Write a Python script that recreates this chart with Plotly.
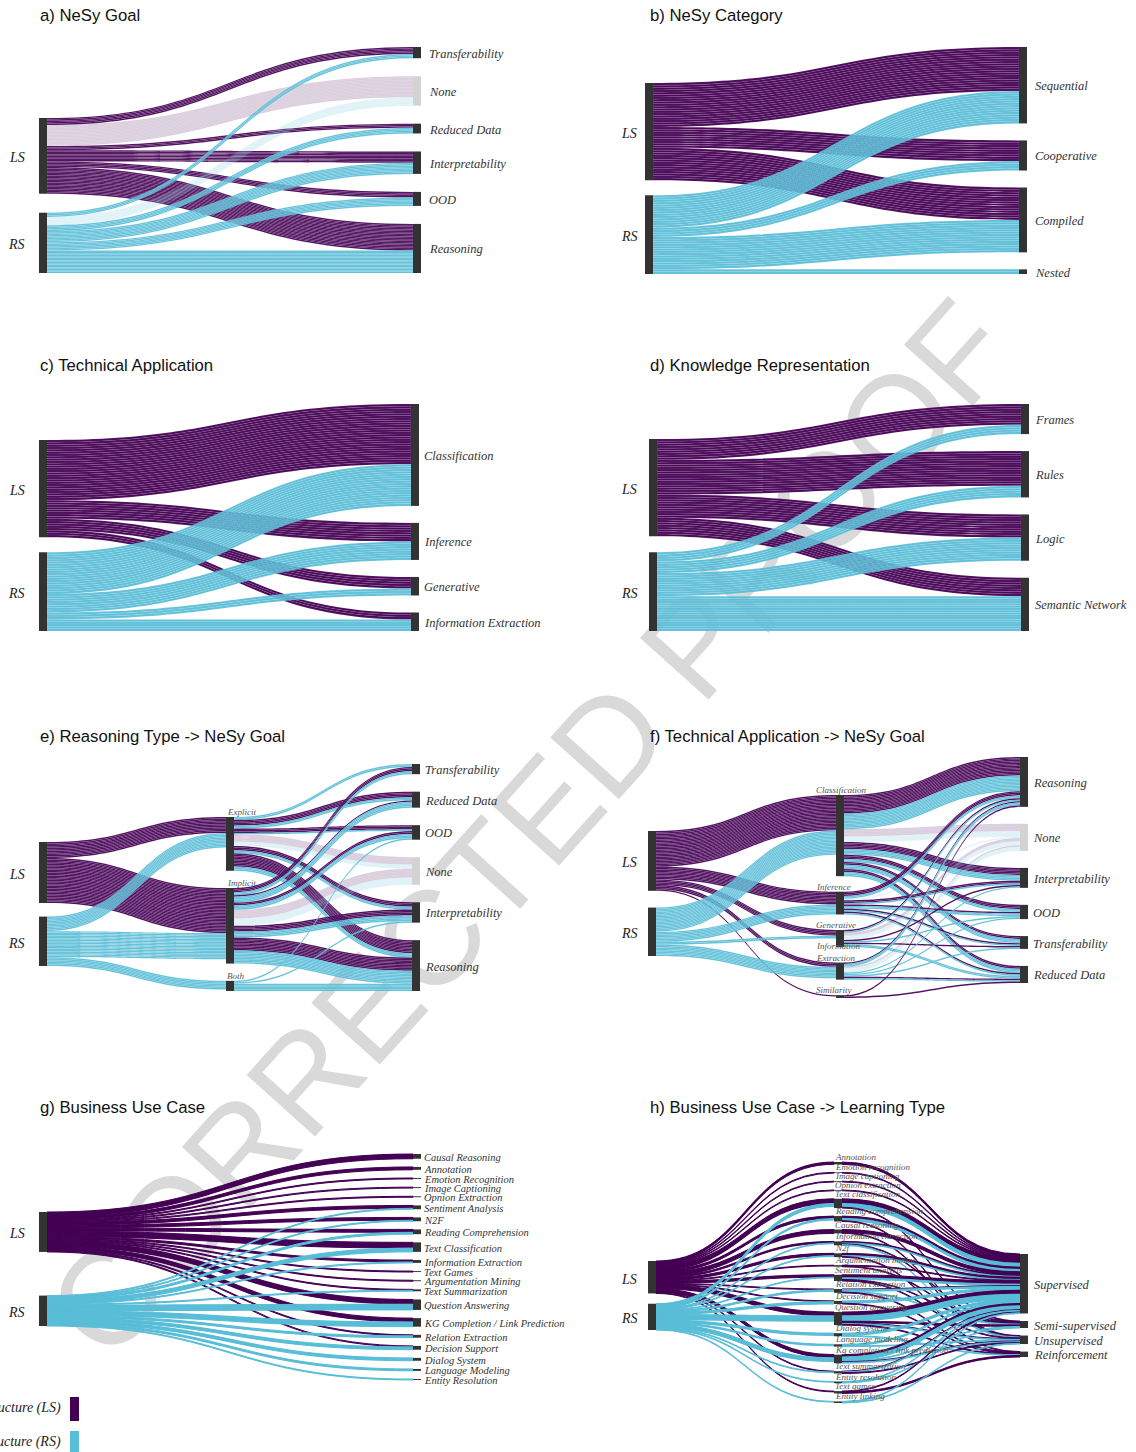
import plotly.graph_objects as go

FIG_W, FIG_H = 1136, 1452

LS_RGB = (68, 1, 84)
RS_RGB = (88, 189, 215)

# ---------------------------------------------------------------- data
SIDES = ["LS", "RS"]

# a) NeSy Goal (studies per goal)
goal_a = ["Transferability", "None", "Reduced Data", "Interpretability", "OOD", "Reasoning"]
goal_a_ls = [5, 15, 3, 8, 4, 19]
goal_a_rs = [3, 6, 4, 8, 6, 16]

# b) NeSy Category
category_b = ["Sequential", "Cooperative", "Compiled", "Nested"]
category_b_ls = [19, 9, 14, 0]
category_b_rs = [14, 4, 14, 2]

# c) Technical Application
application_c = ["Classification", "Inference", "Generative", "Information Extraction"]
application_c_ls = [26, 8, 5, 3]
application_c_rs = [18, 8, 3, 5]

# d) Knowledge Representation
knowledge_d = ["Frames", "Rules", "Logic", "Semantic Network"]
knowledge_d_ls = [9, 15, 10, 8]
knowledge_d_rs = [4, 5, 10, 15]

# e) Reasoning Type -> NeSy Goal
reasoning_e = ["Explicit", "Implicit", "Both"]
reasoning_e_ls = [11, 31, 0]
reasoning_e_rs = [10, 18, 6]
goal_e = ["Transferability", "Reduced Data", "OOD", "None", "Interpretability", "Reasoning"]
goal_e_ls = [[0, 4, 3, 5, 3, 9],      # Explicit
             [3, 1, 2, 6, 4, 9],      # Implicit
             [0, 0, 0, 0, 0, 0]]      # Both
goal_e_rs = [[2, 2, 1, 3, 2, 3],
             [2, 4, 3, 5, 4, 9],
             [0, 0, 1, 0, 1, 5]]

# f) Technical Application -> NeSy Goal
application_f = ["Classification", "Inference", "Generative", "Information Extraction", "Similarity"]
application_f_ls = [25, 9, 4, 3, 1]
application_f_rs = [17, 7, 2, 8, 0]
goal_f = ["Reasoning", "None", "Interpretability", "OOD", "Transferability", "Reduced Data"]
goal_f_ls = [[13, 5, 5, 3, 2, 2],
             [3, 0, 2, 1, 1, 1],
             [1, 2, 1, 0, 1, 0],
             [1, 1, 0, 0, 0, 1],
             [1, 0, 0, 0, 0, 1]]
goal_f_rs = [[11, 4, 4, 2, 3, 3],
             [2, 1, 1, 2, 1, 1],
             [1, 3, 0, 1, 0, 2],
             [2, 3, 1, 1, 1, 1],
             [0, 0, 0, 0, 0, 0]]

# g) Business Use Case
usecase_g = ["Causal Reasoning", "Annotation", "Emotion Recognition", "Image Captioning",
             "Opnion Extraction", "Sentiment Analysis", "N2F", "Reading Comprehension",
             "Text Classification", "Information Extraction", "Text Games", "Argumentation Mining",
             "Text Summarization", "Question Answering", "KG Completion / Link Prediction",
             "Relation Extraction", "Decision Support", "Dialog System", "Language Modeling",
             "Entity Resolution"]
usecase_g_ls = [5, 3, 1, 1, 1, 3, 3, 3, 6, 2, 1, 1, 1, 5, 4, 1, 1, 0, 0, 0]
usecase_g_rs = [0, 0, 0, 0, 0, 1, 1, 2, 4, 1, 0, 0, 1, 6, 5, 2, 3, 3, 2, 1]

# h) Business Use Case -> Learning Type
usecase_h = ["Annotation", "Emotion recognition", "Image captioning", "Opnion extraction",
             "Text classification", "Reading comprehension", "Causal reasoning",
             "Information extraction", "N2f", "Argumentation mining", "Sentiment analysis",
             "Relation extraction", "Decision support", "Question answering", "Dialog system",
             "Language modeling", "Kg completion / link prediction", "Text summarization",
             "Entity resolution", "Text games", "Entity linking"]
usecase_h_ls = [3, 1, 1, 1, 6, 3, 5, 2, 3, 1, 3, 1, 1, 5, 0, 0, 4, 1, 0, 1, 0]
usecase_h_rs = [0, 0, 0, 0, 4, 2, 0, 1, 1, 0, 1, 2, 3, 7, 3, 2, 5, 1, 1, 0, 1]
learning_h = ["Supervised", "Semi-supervised", "Unsupervised", "Reinforcement"]
learning_h_ls = [[3, 0, 0, 0], [1, 0, 0, 0], [1, 0, 0, 0], [1, 0, 0, 0], [6, 1, 0, 0],
                 [3, 0, 1, 0], [4, 0, 1, 0], [2, 1, 0, 0], [3, 0, 0, 1], [1, 1, 0, 0],
                 [4, 1, 1, 0], [1, 0, 0, 1], [0, 0, 0, 1], [5, 2, 1, 1], [0, 0, 0, 0],
                 [0, 0, 0, 0], [3, 0, 1, 0], [1, 0, 1, 0], [0, 0, 0, 0], [1, 0, 0, 2],
                 [0, 0, 0, 0]]
learning_h_rs = [[0, 0, 0, 0], [0, 0, 0, 0], [0, 0, 0, 0], [0, 0, 0, 0], [5, 0, 0, 0],
                 [3, 0, 0, 0], [0, 0, 0, 0], [1, 0, 1, 0], [1, 0, 0, 0], [0, 0, 0, 0],
                 [2, 0, 0, 0], [2, 1, 0, 0], [3, 0, 0, 0], [7, 0, 1, 0], [3, 0, 0, 1],
                 [2, 0, 1, 0], [5, 1, 1, 0], [1, 0, 0, 0], [1, 1, 0, 0], [0, 0, 0, 0],
                 [1, 0, 1, 0]]

# ---------------------------------------------------------------- styling
def rgba(rgb, a):
    return f"rgba({rgb[0]},{rgb[1]},{rgb[2]},{a})"

LINK_COLOR = {"LS": rgba(LS_RGB, 0.97), "RS": rgba(RS_RGB, 0.95)}
THIN_LINK_COLOR = {"LS": rgba(LS_RGB, 1), "RS": rgba(RS_RGB, 1)}
NONE_LINK_COLOR = {"LS": rgba(LS_RGB, 0.2), "RS": rgba(RS_RGB, 0.2)}
NODE_COLOR = "#333333"
NONE_NODE_COLOR = "#d3d3d3"
SERIF = "Liberation Serif"
SANS = "Liberation Sans"


def px_x(x):
    return x / FIG_W


def px_y(y):
    return 1 - y / FIG_H


def build_sankey(columns, flows, box, col_x, col_span, pad, line_w, line_alpha):
    """Unit-link sankey; every column is spread evenly over its vertical span (px).

    Each unit link gets a faint white outline (line_w, line_alpha); with line_w 0
    the links are drawn fully opaque so that single-study flows stay visible.
    """
    bx0, bx1, by0, by1 = box
    width, height = bx1 - bx0, by1 - by0
    palette = LINK_COLOR if line_w > 0 else THIN_LINK_COLOR
    index = {}
    for ci, col in enumerate(columns):
        for name in col:
            index[(ci, name)] = len(index)
    n = len(index)
    inflow, outflow = [0] * n, [0] * n
    src, tgt, val, colors = [], [], [], []
    for s_key, t_key, side, count in flows:
        s, t = index[s_key], index[t_key]
        color = NONE_LINK_COLOR[side] if t_key[1] == "None" else palette[side]
        for _ in range(count):
            src.append(s)
            tgt.append(t)
            val.append(1)
            colors.append(color)
        outflow[s] += count
        inflow[t] += count
    value = [max(a, b) for a, b in zip(inflow, outflow)]

    # node scale as computed by the sankey layout
    longest = max(len(c) for c in columns)
    pad_used = min(pad, 2 / 3 * height / (longest - 1))
    ky = min((height - (len(col) - 1) * pad_used) / sum(value[index[(ci, nm)]] for nm in col)
             for ci, col in enumerate(columns))

    nx, ny = [0.0] * n, [0.0] * n
    extent = {}
    for ci, col in enumerate(columns):
        top, bottom = col_span[ci]
        heights = [value[index[(ci, nm)]] * ky for nm in col]
        gap = (bottom - top - sum(heights)) / (len(col) - 1) if len(col) > 1 else 0
        y = top
        for nm, h in zip(col, heights):
            i = index[(ci, nm)]
            nx[i] = (col_x[ci] - bx0) / width
            ny[i] = (y + h / 2 - by0) / height
            extent[(ci, nm)] = (y, y + h)
            y += h + gap

    node_colors = [NONE_NODE_COLOR if key[1] == "None" else NODE_COLOR for key in index]
    trace = go.Sankey(
        domain=dict(x=[px_x(bx0), px_x(bx1)], y=[px_y(by1), px_y(by0)]),
        arrangement="fixed",
        node=dict(label=[""] * n, x=nx, y=ny, pad=pad, thickness=8,
                  color=node_colors, line=dict(width=0), hoverinfo="skip"),
        link=dict(source=src, target=tgt, value=val, color=colors,
                  line=dict(color=f"rgba(255,255,255,{line_alpha})", width=line_w),
                  hoverinfo="skip"),
    )
    return trace, extent


def two_column_flows(targets, ls, rs):
    flows = []
    for side, counts in (("LS", ls), ("RS", rs)):
        for name, c in zip(targets, counts):
            if c:
                flows.append(((0, side), (1, name), side, c))
    return flows


def three_column_flows(mid, mid_ls, mid_rs, right, right_ls, right_rs):
    flows = []
    for side, counts in (("LS", mid_ls), ("RS", mid_rs)):
        for name, c in zip(mid, counts):
            if c:
                flows.append(((0, side), (1, name), side, c))
    for i, m in enumerate(mid):
        for j, r in enumerate(right):
            for side, table in (("LS", right_ls), ("RS", right_rs)):
                c = table[i][j]
                if c:
                    flows.append(((1, m), (2, r), side, c))
    return flows


def annot(x, y, text, size, family, color="#333333", xanchor="left", yanchor="middle",
          italic=False):
    return dict(x=px_x(x), y=px_y(y), xref="paper", yref="paper", text=text,
                showarrow=False, xanchor=xanchor, yanchor=yanchor, align="left",
                borderpad=0, font=dict(size=size, family=family, color=color,
                                       style="italic" if italic else "normal"))


panels = [
    dict(title="a) NeSy Goal", title_xy=(39, 15),
         columns=[SIDES, goal_a], flows=two_column_flows(goal_a, goal_a_ls, goal_a_rs),
         box=(39, 421, 47, 273), col_x=[43, 417], col_span=[(118, 273), (47, 273)],
         pad=18, side_x=16.5, right_x=428, right_size=12.5, line_w=0.3, line_alpha=0.3),
    dict(title="b) NeSy Category", title_xy=(649, 15),
         columns=[SIDES, category_b],
         flows=two_column_flows(category_b, category_b_ls, category_b_rs),
         box=(645, 1027, 47, 274), col_x=[649, 1023], col_span=[(83, 274), (47, 274)],
         pad=17, side_x=629, right_x=1034, right_size=12.5, line_w=0.3, line_alpha=0.3),
    dict(title="c) Technical Application", title_xy=(39, 366),
         columns=[SIDES, application_c],
         flows=two_column_flows(application_c, application_c_ls, application_c_rs),
         box=(39, 419, 404, 631), col_x=[43, 415], col_span=[(440, 631), (404, 631)],
         pad=17, side_x=16.5, right_x=423, right_size=12.5, line_w=0.3, line_alpha=0.3),
    dict(title="d) Knowledge Representation", title_xy=(649, 366),
         columns=[SIDES, knowledge_d],
         flows=two_column_flows(knowledge_d, knowledge_d_ls, knowledge_d_rs),
         box=(649, 1029, 404, 631), col_x=[653, 1025], col_span=[(439, 631), (404, 631)],
         pad=17, side_x=629, right_x=1034, right_size=12.5, line_w=0.3, line_alpha=0.3),
    dict(title="e) Reasoning Type -> NeSy Goal", title_xy=(39, 736),
         columns=[SIDES, reasoning_e, goal_e],
         flows=three_column_flows(reasoning_e, reasoning_e_ls, reasoning_e_rs,
                                  goal_e, goal_e_ls, goal_e_rs),
         box=(39, 420, 764, 991), col_x=[43, 230, 416],
         col_span=[(842, 966), (817, 991), (764, 991)], pad=17.5,
         side_x=16.5, right_x=424, right_size=12.5, mid_x=226, mid_size=9,
         line_w=0.25, line_alpha=0.3),
    dict(title="f) Technical Application -> NeSy Goal", title_xy=(649, 736),
         columns=[SIDES, application_f, goal_f],
         flows=three_column_flows(application_f, application_f_ls, application_f_rs,
                                  goal_f, goal_f_ls, goal_f_rs),
         box=(648, 1028, 757, 983), col_x=[652, 840, 1024],
         col_span=[(831, 956), (795, 998), (757, 983)], pad=17,
         side_x=629, right_x=1032, right_size=12.5, mid_x=815, mid_size=9,
         line_w=0.25, line_alpha=0.3),
    dict(title="g) Business Use Case", title_xy=(39, 1107),
         columns=[SIDES, usecase_g],
         flows=two_column_flows(usecase_g, usecase_g_ls, usecase_g_rs),
         box=(39, 421, 1154, 1365), col_x=[43, 417], col_span=[(1212, 1326), (1154, 1380)],
         pad=10, side_x=16.5, right_x=423, right_size=10.5, line_w=0, line_alpha=0),
    dict(title="h) Business Use Case -> Learning Type", title_xy=(649, 1107),
         columns=[SIDES, usecase_h, learning_h],
         flows=three_column_flows(usecase_h, usecase_h_ls, usecase_h_rs,
                                  learning_h, learning_h_ls, learning_h_rs),
         box=(648, 1028, 1162, 1403), col_x=[652, 838, 1024],
         col_span=[(1261, 1330), (1162, 1403), (1254, 1357)], pad=10,
         side_x=629, right_x=1033, right_size=12.5, mid_x=834, mid_size=9,
         line_w=0, line_alpha=0),
]

fig = go.Figure()
annotations = []
shapes = []

# watermark behind the diagrams
shapes.append(dict(type="rect", xref="paper", yref="paper",
                   x0=px_x(515), x1=px_x(525), y0=px_y(825), y1=px_y(815),
                   line=dict(width=0), fillcolor="rgba(0,0,0,0)", layer="below",
                   label=dict(text="CORRECTED PROOF", textangle=-48, textposition="middle center",
                              font=dict(size=134, family=SANS, color="#d9d9d9"))))

for p in panels:
    trace, extent = build_sankey(p["columns"], p["flows"], p["box"], p["col_x"],
                                 p["col_span"], p["pad"], p["line_w"], p["line_alpha"])
    fig.add_trace(trace)
    tx, ty = p["title_xy"]
    annotations.append(annot(tx, ty, p["title"], 16.7, SANS, color="#111111"))
    last = len(p["columns"]) - 1
    for side in SIDES:
        top, bot = extent[(0, side)]
        annotations.append(annot(p["side_x"], (top + bot) / 2 + 2, side, 14, SERIF,
                                 color="#222222", xanchor="center", italic=True))
    for name in p["columns"][last]:
        top, bot = extent[(last, name)]
        annotations.append(annot(p["right_x"], (top + bot) / 2 + 1, name, p["right_size"],
                                 SERIF, color="#333333", italic=True))
    if last == 2:
        for name in p["columns"][1]:
            top, bot = extent[(1, name)]
            label = "Information<br>Extraction" if name == "Information Extraction" else name
            annotations.append(annot(p["mid_x"], top + 1, label, p["mid_size"], SERIF,
                                     color="#555555", yanchor="bottom", italic=True))

# colour key for the two study groups
for y0, y1, rgb, text in ((1397, 1421, LS_RGB, "Linguistic Structure (LS)"),
                          (1431, 1455, RS_RGB, "Reasoning Structure (RS)")):
    shapes.append(dict(type="rect", xref="paper", yref="paper", x0=px_x(70), x1=px_x(79),
                       y0=px_y(y1), y1=px_y(y0), line=dict(width=0), fillcolor=rgba(rgb, 1)))
    annotations.append(annot(62, (y0 + y1) / 2 - 1, text, 14, SERIF, color="#222222",
                             xanchor="right", italic=True))

fig.update_layout(width=FIG_W, height=FIG_H, margin=dict(l=0, r=0, t=0, b=0),
                  paper_bgcolor="white", plot_bgcolor="white", showlegend=False,
                  annotations=annotations, shapes=shapes)

fig.write_html("out.html")
with open("out.html", encoding="utf-8") as fh:
    html = fh.read()
html = html.replace("<head>", "<head><style>body{margin:0;}</style>", 1)
with open("out.html", "w", encoding="utf-8") as fh:
    fh.write(html)
